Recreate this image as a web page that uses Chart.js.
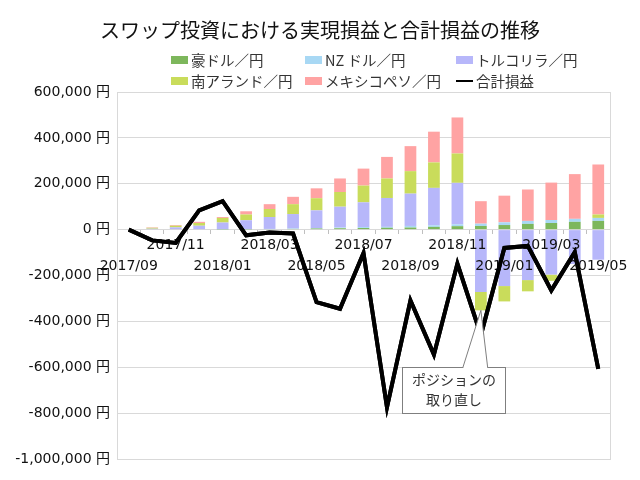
<!DOCTYPE html>
<html>
<head>
<meta charset="utf-8">
<script src="https://cdn.jsdelivr.net/npm/chart.js@4.4.0/dist/chart.umd.min.js"></script>
<style>
  body { margin: 0; background: #fff; }
  canvas { display: block; }
</style>
</head>
<body>
<canvas id="myChart" width="640" height="480"></canvas>
<script>
const months = ['2017/09','2017/10','2017/11','2017/12','2018/01','2018/02','2018/03','2018/04','2018/05','2018/06','2018/07',
                '2018/08','2018/09','2018/10','2018/11','2018/12','2019/01','2019/02','2019/03','2019/04','2019/05'];

// 実現損益 (円)
const audJpy = [0, 0, 0, 0, 1000, 1000, 2000, 3000, 5000, 6000, 7000, 8000, 9000, 12000, 15000, 16000, 20000, 25000, 29000, 34000, 38000];
const nzdJpy = [0, 0, 0, 0, 1000, 1000, 1000, 2000, 2000, 3000, 4000, 4000, 7000, 7000, 8000, 10000, 12000, 13000, 13000, 13000, 13000];
const tryJpy = [0, 4000, 10000, 17000, 29000, 39000, 52000, 63000, 77000, 91000, 108000, 126000, 141000, 163000, 181000,
                -272000, -246000, -220000, -196000, -150000, -131000];
const zarJpy = [0, 4000, 7000, 12000, 20000, 25000, 35000, 43000, 53000, 64000, 73000, 85000, 98000, 111000, 128000,
                -80000, -67000, -49000, -27000, 0, 15000];
const mxnJpy = [0, 2000, 3000, 5000, 4000, 14000, 21000, 32000, 43000, 59000, 74000, 94000, 109000, 134000, 157000,
                98000, 116000, 137000, 163000, 195000, 218000];

// 合計損益 (円)
const total = [0, -47000, -58000, 84000, 124000, -25000, -13000, -17000, -316000, -345000, -102000,
               -775000, -309000, -545000, -148000, -460000, -80000, -71000, -265000, -98000, -607000];

const yTicks = { min: -1000000, max: 600000, step: 200000 };
const calloutText = ['ポジションの', '取り直し'];
const calloutIndex = 15;

const jpFont = '"Noto Sans CJK JP", "Noto Sans", sans-serif';
const numFont = '"DejaVu Sans", "Noto Sans CJK JP", sans-serif';

// 凡例 (3列 x 2行)
const legendPlugin = {
  id: 'gridLegend',
  afterDraw(chart) {
    const ctx = chart.ctx;
    const cols = [171, 305, 456];
    const rows = [60, 81];
    ctx.save();
    ctx.font = '14.5px ' + jpFont;
    ctx.textBaseline = 'middle';
    chart.data.datasets.forEach((ds, i) => {
      const x = cols[i % 3], y = rows[Math.floor(i / 3)];
      if (ds.type === 'line') {
        ctx.strokeStyle = ds.borderColor;
        ctx.lineWidth = 2;
        ctx.beginPath();
        ctx.moveTo(x, y);
        ctx.lineTo(x + 17, y);
        ctx.stroke();
      } else {
        ctx.fillStyle = ds.backgroundColor;
        ctx.fillRect(x, y - 4, 17, 8);
      }
      ctx.fillStyle = '#333';
      ctx.textAlign = 'left';
      ctx.fillText(ds.label, x + 20, y);
    });
    ctx.restore();
  }
};

// 枠線・折れ線の重ね描き・吹き出し
const calloutPlugin = {
  id: 'callout',
  beforeDatasetsDraw(chart) {
    const {ctx, chartArea: a} = chart;
    ctx.save();
    ctx.strokeStyle = '#d9d9d9';
    ctx.lineWidth = 1;
    ctx.strokeRect(Math.round(a.left) + 0.5, Math.round(a.top) + 0.5, Math.round(a.right - a.left), Math.round(a.bottom - a.top));
    ctx.restore();
  },
  afterDraw(chart) {
    const {ctx} = chart;
    // 合計損益の線を目盛ラベルの上に描き直す
    const lineMeta = chart.getDatasetMeta(chart.data.datasets.length - 1);
    ctx.save();
    lineMeta.controller.draw();
    ctx.restore();

    const x = chart.scales.x, y = chart.scales.y;
    const left = x.getPixelForValue(11.65), right = x.getPixelForValue(16.05);
    const top = y.getPixelForValue(-600000), bottom = y.getPixelForValue(-800000);
    const negs = [tryJpy, zarJpy].reduce((s, arr) => s + Math.min(arr[calloutIndex], 0), 0);
    const tipX = x.getPixelForValue(calloutIndex), tipY = y.getPixelForValue(negs);
    const b1 = x.getPixelForValue(14.23), b2 = x.getPixelForValue(15.29);
    ctx.save();
    ctx.fillStyle = '#fff';
    ctx.strokeStyle = '#7f7f7f';
    ctx.lineWidth = 1;
    ctx.fillRect(left, top, right - left, bottom - top);
    ctx.strokeRect(Math.round(left) + 0.5, Math.round(top) + 0.5, Math.round(right - left), Math.round(bottom - top));
    ctx.beginPath();
    ctx.moveTo(b1, top + 1.5);
    ctx.lineTo(tipX, tipY);
    ctx.lineTo(b2, top + 1.5);
    ctx.closePath();
    ctx.fill();
    ctx.beginPath();
    ctx.moveTo(b1, top + 0.5);
    ctx.lineTo(tipX, tipY);
    ctx.lineTo(b2, top + 0.5);
    ctx.stroke();
    ctx.fillStyle = '#333';
    ctx.font = '14px ' + jpFont;
    ctx.textAlign = 'center';
    ctx.textBaseline = 'middle';
    const cx = (left + right) / 2;
    ctx.fillText(calloutText[0], cx, top + 12);
    ctx.fillText(calloutText[1], cx, top + 32);
    ctx.restore();
  }
};

const barDs = (label, data, color) => ({
  type: 'bar', label, data, backgroundColor: color, order: 1,
  barPercentage: 0.5, categoryPercentage: 1
});

new Chart(document.getElementById('myChart'), {
  data: {
    labels: months,
    datasets: [
      barDs('豪ドル／円', audJpy, '#7db75c'),
      barDs('NZ ドル／円', nzdJpy, '#a8d8f4'),
      barDs('トルコリラ／円', tryJpy, '#b7b7fa'),
      barDs('南アランド／円', zarJpy, '#c9dc5b'),
      barDs('メキシコペソ／円', mxnJpy, '#ffa3a3'),
      { type: 'line', label: '合計損益', data: total, borderColor: '#000', backgroundColor: '#000',
        borderWidth: 4, pointRadius: 0, tension: 0, order: 0, stack: 'total' }
    ]
  },
  options: {
    responsive: false,
    animation: false,
    layout: { padding: { left: 0, right: 0, top: 0, bottom: 21 } },
    plugins: {
      legend: { display: false },
      tooltip: { enabled: false },
      title: {
        display: true,
        text: 'スワップ投資における実現損益と合計損益の推移',
        color: '#111',
        font: { family: jpFont, size: 20, weight: 'normal', lineHeight: 1.2 },
        padding: { top: 18, bottom: 50 }
      }
    },
    scales: {
      x: {
        stacked: true,
        position: { y: 0 },
        border: { display: false },
        grid: { drawOnChartArea: false, drawTicks: true, tickLength: 4, color: '#bfbfbf' },
        ticks: {
          z: 1,
          autoSkip: false, maxRotation: 0, padding: 1, color: '#111',
          font: { family: numFont, size: 14, lineHeight: 1.5 },
          callback: (v, i) => i % 4 === 0 ? ['', months[i]] : (i % 4 === 2 ? months[i] : '')
        }
      },
      y: {
        stacked: true,
        min: yTicks.min, max: yTicks.max,
        afterFit: s => { s.width = 117; },
        border: { display: true, color: '#d9d9d9' },
        grid: { color: '#d9d9d9', drawTicks: false },
        ticks: {
          stepSize: yTicks.step, padding: 7, color: '#111',
          font: { family: numFont, size: 14 },
          callback: v => v.toLocaleString('en-US') + ' 円'
        }
      },
      // 右側の余白用 (表示なし)
      yRight: {
        position: 'right',
        grid: { display: false },
        border: { display: false },
        ticks: { display: false },
        afterFit: s => { s.width = 30; }
      }
    }
  },
  plugins: [legendPlugin, calloutPlugin]
});
</script>
</body>
</html>
